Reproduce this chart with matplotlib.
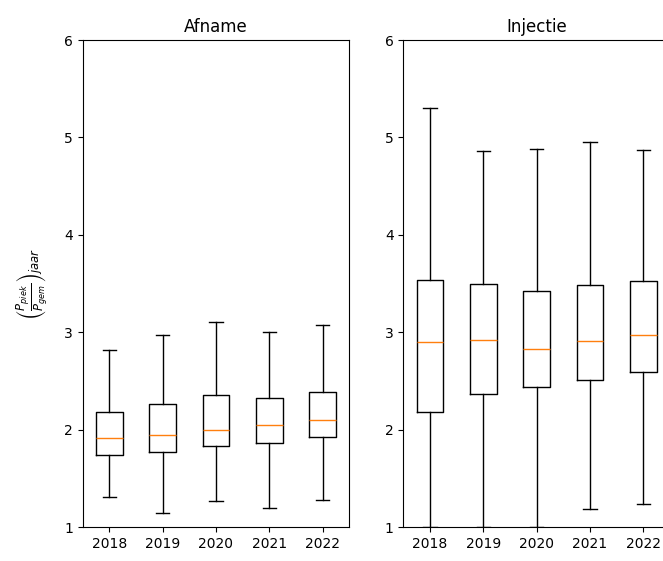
import matplotlib
matplotlib.use('Agg')
import matplotlib.pyplot as plt

years = ['2018', '2019', '2020', '2021', '2022']

# Afname: whisker low, Q1, median, Q3, whisker high
afname_low = [1.31, 1.14, 1.27, 1.20, 1.28]
afname_q1 = [1.74, 1.77, 1.83, 1.865, 1.92]
afname_med = [1.91, 1.945, 2.00, 2.05, 2.10]
afname_q3 = [2.18, 2.26, 2.355, 2.32, 2.39]
afname_high = [2.82, 2.97, 3.10, 3.00, 3.07]

# Injectie
inj_low = [1.0, 1.0, 1.0, 1.18, 1.24]
inj_q1 = [2.18, 2.37, 2.44, 2.51, 2.59]
inj_med = [2.90, 2.92, 2.83, 2.91, 2.97]
inj_q3 = [3.54, 3.50, 3.42, 3.49, 3.53]
inj_high = [5.30, 4.86, 4.88, 4.95, 4.87]


def make_stats(low, q1, med, q3, high):
    return [dict(label=y, whislo=a, q1=b, med=c, q3=d, whishi=e, fliers=[])
            for y, a, b, c, d, e in zip(years, low, q1, med, q3, high)]


fig = plt.figure(figsize=(6.63, 5.61), dpi=100)
ax1 = fig.add_axes([0.1247, 0.0606, 0.4021, 0.868])
ax2 = fig.add_axes([0.6083, 0.0606, 0.4021, 0.868])

ax1.bxp(make_stats(afname_low, afname_q1, afname_med, afname_q3, afname_high),
        showfliers=False)
ax2.bxp(make_stats(inj_low, inj_q1, inj_med, inj_q3, inj_high),
        showfliers=False)

for ax, title in zip([ax1, ax2], ['Afname', 'Injectie']):
    ax.set_ylim(1, 6)
    ax.set_title(title)

ax1.set_ylabel(r'$\left(\frac{P_{piek}}{P_{gem}}\right)_{jaar}$',
               fontsize=12, labelpad=10)

fig.savefig('out.png', dpi=100)
